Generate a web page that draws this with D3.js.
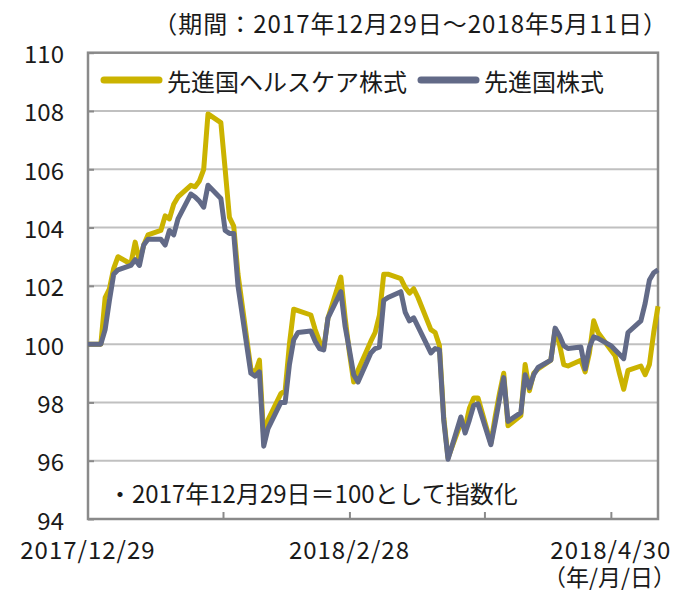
<!DOCTYPE html>
<html>
<head>
<meta charset="utf-8">
<script src="https://cdn.jsdelivr.net/npm/d3@7"></script>
<style>
  body { margin: 0; background: #fff; }
  text { font-family: "Noto Sans CJK JP", "Noto Sans", sans-serif; fill: #1a1a1a; }
</style>
</head>
<body>
<div id="chart" style="width:684px;height:590px"></div>
<script>
// business days 2017/12/29 - 2018/5/11
const dates = [
  "2017-12-29",
  "2018-01-01","2018-01-02","2018-01-03","2018-01-04","2018-01-05","2018-01-08","2018-01-09","2018-01-10",
  "2018-01-11","2018-01-12","2018-01-15","2018-01-16","2018-01-17","2018-01-18","2018-01-19","2018-01-22",
  "2018-01-23","2018-01-24","2018-01-25","2018-01-26","2018-01-29","2018-01-30","2018-01-31",
  "2018-02-01","2018-02-02","2018-02-05","2018-02-06","2018-02-07","2018-02-08","2018-02-09","2018-02-12",
  "2018-02-13","2018-02-14","2018-02-15","2018-02-16","2018-02-19","2018-02-20","2018-02-21","2018-02-22",
  "2018-02-23","2018-02-26","2018-02-27","2018-02-28",
  "2018-03-01","2018-03-02","2018-03-05","2018-03-06","2018-03-07","2018-03-08","2018-03-09","2018-03-12",
  "2018-03-13","2018-03-14","2018-03-15","2018-03-16","2018-03-19","2018-03-20","2018-03-21","2018-03-22",
  "2018-03-23","2018-03-26","2018-03-27","2018-03-28","2018-03-29","2018-03-30",
  "2018-04-02","2018-04-03","2018-04-04","2018-04-05","2018-04-06","2018-04-09","2018-04-10","2018-04-11",
  "2018-04-12","2018-04-13","2018-04-16","2018-04-17","2018-04-18","2018-04-19","2018-04-20","2018-04-23",
  "2018-04-24","2018-04-25","2018-04-26","2018-04-27","2018-04-30",
  "2018-05-01","2018-05-02","2018-05-03","2018-05-04","2018-05-07","2018-05-08","2018-05-09","2018-05-10",
  "2018-05-11"
];

// 先進国ヘルスケア株式
const healthcare = [
  100,
  100, 101.6, 101.9, 102.6, 103.0, 102.75, 103.5, 102.85, 103.4, 103.75, 103.9, 104.4, 104.3, 104.8, 105.05,
  105.45, 105.4, 105.6, 106.0, 107.9, 107.6, 106.0, 104.35,
  104.05, 102.4, 99.15, 99.0, 99.45, 96.8, 97.4, 98.3, 98.4, 100.0, 101.2, 101.15, 101.0, 100.5, 100.1, 99.85,
  100.9, 102.3, 100.9, 99.7,
  98.7, 99.1, 100.1, 100.4, 101.0, 102.4, 102.4, 102.25, 101.95, 101.75, 101.9, 101.6, 100.5, 100.4, 99.95,
  97.5, 96.1, 97.3, 97.15, 97.8, 98.15, 98.15,
  96.6, 97.5, 98.3, 99.0, 97.2, 97.55, 99.3, 98.4, 99.0, 99.15, 99.45, 100.5, 100.0, 99.3, 99.25, 99.45,
  99.05, 99.7, 100.8, 100.4, 99.8,
  99.6, 99.0, 98.45, 99.1, 99.25, 98.95, 99.3, 100.4, 101.3
];

// 先進国株式
const world = [
  100,
  100, 100.5, 101.5, 102.4, 102.55, 102.7, 102.9, 102.7, 103.4, 103.6, 103.6, 103.4, 103.9, 103.75, 104.3,
  105.15, 105.05, 104.9, 104.7, 105.45, 105.0, 103.9, 103.8,
  103.8, 102.0, 99.0, 98.9, 99.05, 96.5, 97.1, 98.0, 98.0, 99.3, 100.15, 100.4, 100.45, 100.1, 99.85, 99.8,
  100.9, 101.8, 100.6, 99.8,
  98.95, 98.7, 99.7, 99.85, 99.9, 101.5, 101.6, 101.8, 101.1, 100.8, 100.9, 100.6, 99.7, 99.85, 99.8,
  97.4, 96.05, 97.5, 96.95, 97.4, 97.9, 97.95,
  96.55, 97.3, 98.1, 98.85, 97.35, 97.65, 98.95, 98.5, 98.95, 99.2, 99.45, 100.55, 100.3, 99.95, 99.85, 99.9,
  99.15, 99.9, 100.25, 100.2, 99.95,
  99.8, 99.65, 99.5, 100.4, 100.8, 101.4, 102.2, 102.45, 102.55
];

const seriesNames = ["先進国ヘルスケア株式", "先進国株式"];
const seriesColors = ["#cbb300", "#626a87"];

const yTicks = [94, 96, 98, 100, 102, 104, 106, 108, 110];
const xTickDates = ["2018-01-29T12:00:00Z", "2018-02-28T00:00:00Z", "2018-03-31T12:00:00Z", "2018-04-30T00:00:00Z"];
const xLabelDates = ["2017-12-29", "2018-02-28", "2018-04-30"];
const xLabels = ["2017/12/29", "2018/2/28", "2018/4/30"];

const titleText = "（期間：2017年12月29日～2018年5月11日）";
const noteText = "・2017年12月29日＝100として指数化";
const unitText = "（年/月/日）";

const width = 684, height = 590;
const margin = { top: 52.7, right: 26, bottom: 71, left: 88 };

const svg = d3.select("#chart").append("svg")
  .attr("width", width)
  .attr("height", height);

const parse = d3.isoParse;
const rows = dates.map((d, i) => ({ date: parse(d), hc: healthcare[i], w: world[i] }));

const x = d3.scaleUtc()
  .domain([parse("2017-12-29"), parse("2018-05-11")])
  .range([margin.left, width - margin.right]);

const y = d3.scaleLinear()
  .domain([94, 110])
  .range([height - margin.bottom, margin.top]);

// grid
svg.append("g")
  .selectAll("line")
  .data(yTicks.slice(1, -1))
  .join("line")
  .attr("x1", margin.left).attr("x2", width - margin.right)
  .attr("y1", d => y(d)).attr("y2", d => y(d))
  .attr("stroke", "#c0c0c0")
  .attr("stroke-width", 2);

// frame
svg.append("rect")
  .attr("x", margin.left)
  .attr("y", margin.top)
  .attr("width", width - margin.right - margin.left)
  .attr("height", height - margin.bottom - margin.top)
  .attr("fill", "none")
  .attr("stroke", "#8a8a8a")
  .attr("stroke-width", 2.5);

// axes (inner ticks)
const yAxis = svg.append("g")
  .attr("transform", `translate(${margin.left},0)`)
  .call(d3.axisRight(y).tickValues(yTicks).tickSize(6).tickFormat(""));
yAxis.select(".domain").remove();
yAxis.selectAll("line").attr("stroke", "#8a8a8a").attr("stroke-width", 2);

const xAxis = svg.append("g")
  .attr("transform", `translate(0,${height - margin.bottom})`)
  .call(d3.axisTop(x).tickValues(xTickDates.map(parse)).tickSize(7).tickFormat(""));
xAxis.select(".domain").remove();
xAxis.selectAll("line").attr("stroke", "#8a8a8a").attr("stroke-width", 2);

// y labels
svg.append("g")
  .selectAll("text")
  .data(yTicks)
  .join("text")
  .attr("x", 64)
  .attr("y", d => y(d))
  .attr("text-anchor", "end")
  .attr("dominant-baseline", "central")
  .attr("font-size", 24)
  .text(d => d);

// x labels
svg.append("g")
  .selectAll("text")
  .data(xLabelDates)
  .join("text")
  .attr("x", d => x(parse(d)))
  .attr("y", 548)
  .attr("text-anchor", "middle")
  .attr("dominant-baseline", "central")
  .attr("font-size", 24)
  .attr("letter-spacing", 1)
  .text((d, i) => xLabels[i]);

svg.append("text")
  .attr("x", 676).attr("y", 576)
  .attr("text-anchor", "end")
  .attr("dominant-baseline", "central")
  .attr("font-size", 23)
  .text(unitText);

// lines
const keys = ["hc", "w"];
keys.forEach((k, i) => {
  const line = d3.line()
    .x(d => x(d.date))
    .y(d => y(d[k]));
  svg.append("path")
    .datum(rows)
    .attr("fill", "none")
    .attr("stroke", seriesColors[i])
    .attr("stroke-width", 5)
    .attr("stroke-linejoin", "round")
    .attr("d", line);
});

// legend
const legend = svg.append("g");
const legendX = [104, 421];
seriesNames.forEach((name, i) => {
  legend.append("line")
    .attr("x1", legendX[i]).attr("x2", legendX[i] + 55)
    .attr("y1", 80).attr("y2", 80)
    .attr("stroke", seriesColors[i])
    .attr("stroke-width", 7)
    .attr("stroke-linecap", "round");
  legend.append("text")
    .attr("x", legendX[i] + 63).attr("y", 80)
    .attr("dominant-baseline", "central")
    .attr("font-size", 24)
    .text(name);
});

// title and note
svg.append("text")
  .attr("x", 668).attr("y", 22)
  .attr("text-anchor", "end")
  .attr("dominant-baseline", "central")
  .attr("font-size", 24)
  .attr("letter-spacing", 1)
  .text(titleText);

svg.append("text")
  .attr("x", 108).attr("y", 492)
  .attr("dominant-baseline", "central")
  .attr("font-size", 24)
  .text(noteText);
</script>
</body>
</html>
